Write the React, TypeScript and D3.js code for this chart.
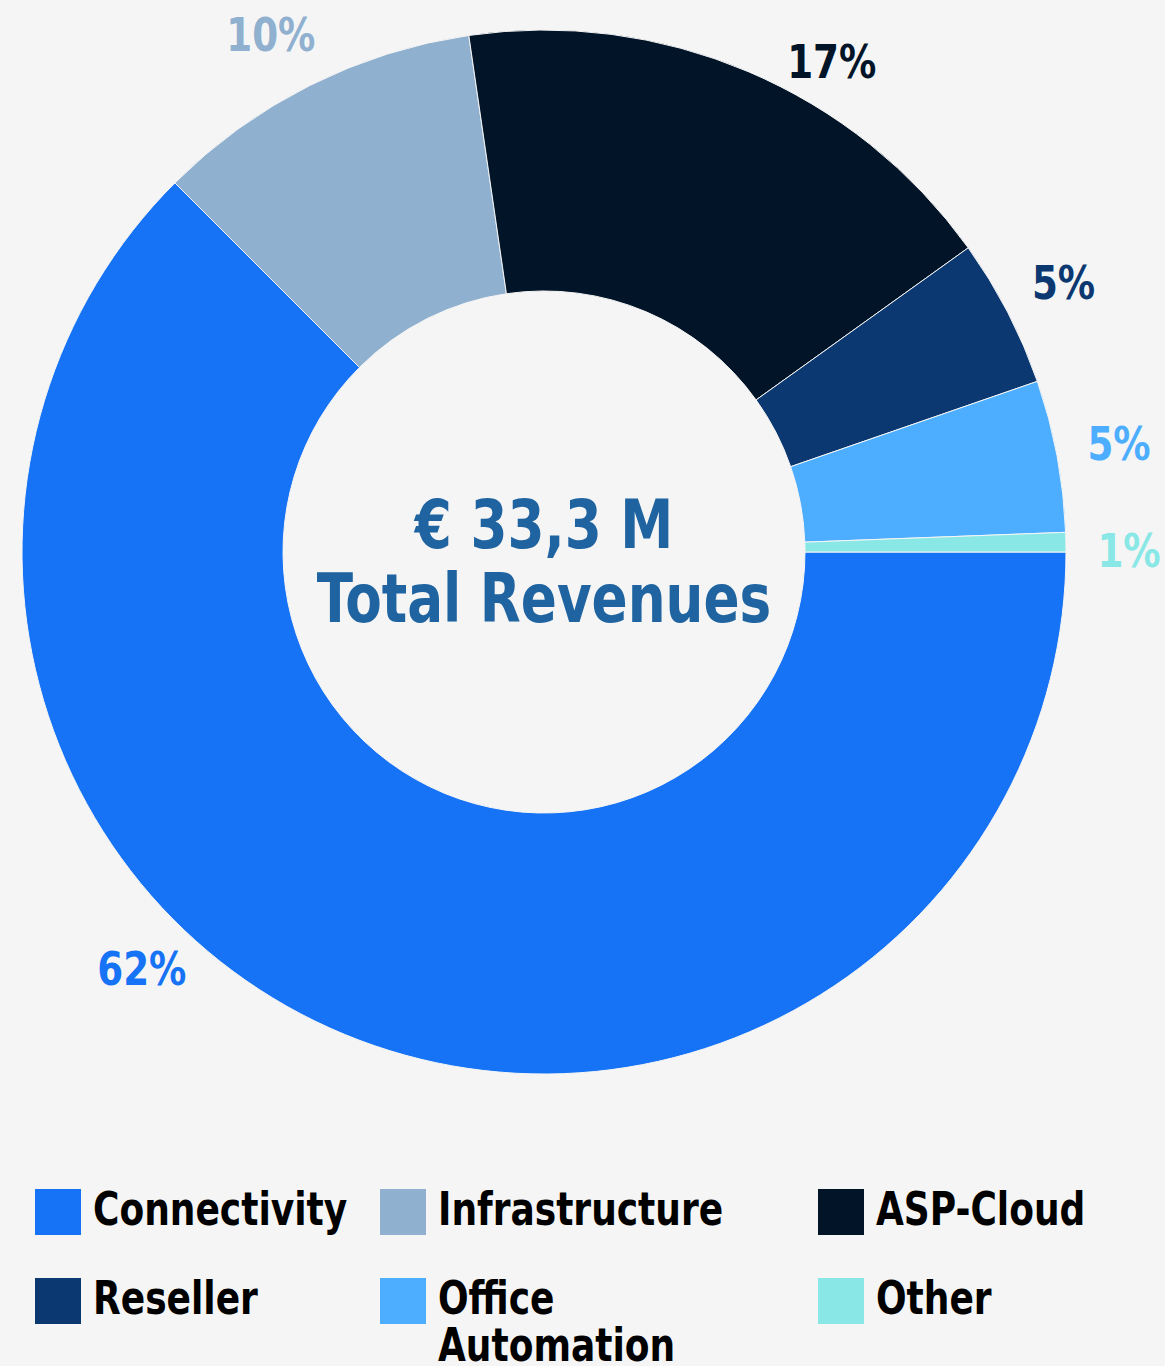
import React from 'react';
import * as d3 from 'd3';

const categories = ['Connectivity', 'Infrastructure', 'ASP-Cloud', 'Reseller', 'Office Automation', 'Other'];
const shares = [62.5, 10.2, 17.4, 4.6, 4.7, 0.6];
const shareLabels = ['62%', '10%', '17%', '5%', '5%', '1%'];
const colors = ['#1673f5', '#8fb0cf', '#011428', '#0b3870', '#4daeff', '#89e8e6'];
const totalLines = ['€ 33,3 M', 'Total Revenues'];

// label nudges (degrees / px): the source placed a couple of labels off-centre
const labelNudge = [21.5, -1.2, 7.4, 0, 0, 1];
const labelRadNudge = [-6, 0, -17, 0, 0, 0];

const W = 1165;
const H = 1366;
const cx = 544;
const cy = 552;
const outerR = 522;
const innerR = 261;
const labelR = 585;
const font = "'DejaVu Sans Condensed', 'DejaVu Sans', Roboto, sans-serif";
const squeeze = 0.87; // DejaVu is wider than the source's font

const App = () => {
  const pie = d3.pie<number>().sort(null).startAngle(Math.PI / 2).endAngle(Math.PI / 2 + 2 * Math.PI);
  const arcs = pie(shares);
  const arc = d3.arc<d3.PieArcDatum<number>>().innerRadius(innerR).outerRadius(outerR);

  // legend: 3 columns, 2 rows
  const colX = d3.scaleOrdinal<number, number>().domain([0, 1, 2]).range([35, 380, 818]);
  const rowY = d3.scaleOrdinal<number, number>().domain([0, 1]).range([1189, 1278]);

  return (
    <div style={{ position: 'absolute', left: 0, top: 0, width: W, height: H, background: '#f5f5f5' }}>
      <svg width={W} height={H} style={{ display: 'block' }} fontFamily={font} fontWeight={700}>
        <rect width={W} height={H} fill="#f5f5f5" />
        <g transform={`translate(${cx},${cy})`}>
          {arcs.map((a, i) => (
            <path key={categories[i]} d={arc(a) || ''} fill={colors[i]} stroke="#f5f5f5" strokeWidth={1} />
          ))}
          {arcs.map((a, i) => {
            const ang = (a.startAngle + a.endAngle) / 2 + (labelNudge[i] * Math.PI) / 180;
            const r = labelR + labelRadNudge[i];
            const x = Math.sin(ang) * r;
            const y = -Math.cos(ang) * r;
            return (
              <text
                key={'l' + i}
                transform={`translate(${x},${y}) scale(0.9,1)`}
                dy="0.35em"
                textAnchor="middle"
                fontSize={46}
                fill={colors[i]}
              >
                {shareLabels[i]}
              </text>
            );
          })}
          {totalLines.map((t, i) => (
            <text
              key={t}
              transform={`translate(0,${i === 0 ? -4 : 70}) scale(${squeeze},1)`}
              textAnchor="middle"
              fontSize={68}
              fill="#1f64a0"
            >
              {t}
            </text>
          ))}
        </g>
        <g>
          {categories.map((c, i) => {
            const x = colX(i % 3);
            const y = rowY(Math.floor(i / 3));
            const words = c === 'Office Automation' ? ['Office', 'Automation'] : [c];
            return (
              <g key={c} transform={`translate(${x},${y})`}>
                <rect width={46} height={46} fill={colors[i]} />
                <text transform={`translate(58,36) scale(${squeeze},1)`} fontSize={46} fill="#000">
                  {words.map((w, j) => (
                    <tspan key={w} x={0} dy={j === 0 ? 0 : 47}>
                      {w}
                    </tspan>
                  ))}
                </text>
              </g>
            );
          })}
        </g>
      </svg>
    </div>
  );
};

export default App;
